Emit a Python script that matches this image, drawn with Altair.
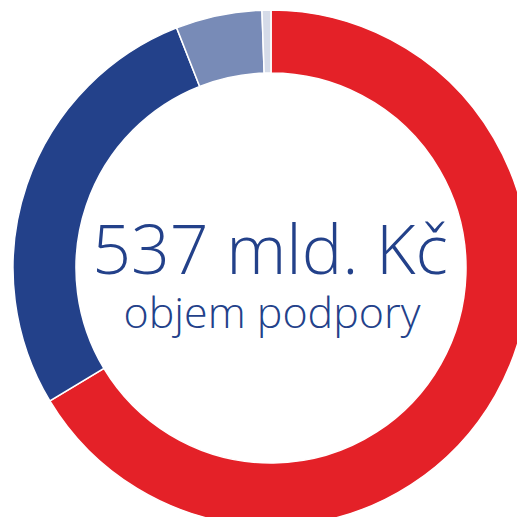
import altair as alt
import pandas as pd

categories = ["A", "B", "C", "D"]
values = [356.5, 148.5, 29.0, 3.0]
order = [1, 2, 3, 4]
colors = ["#E42128", "#23418A", "#788BB7", "#D5DBE8"]

df = pd.DataFrame({"cat": categories, "value": values, "ord": order})

CX, CY = 263, 260

ring = alt.Chart(df).mark_arc(
    innerRadius=195, outerRadius=258, stroke="white", strokeWidth=1.5
).encode(
    theta=alt.Theta("value:Q", stack=True),
    order=alt.Order("ord:Q"),
    color=alt.Color("cat:N", scale=alt.Scale(domain=categories, range=colors), legend=None),
    x=alt.value(CX),
    y=alt.value(CY),
)

line1 = alt.Chart(pd.DataFrame({"t": ["537 mld. Kč"]})).mark_text(
    font="Open Sans", fontSize=68, fontWeight=300, color="#23418A",
    align="center", baseline="alphabetic"
).encode(text="t:N", x=alt.value(262), y=alt.value(266))

line2 = alt.Chart(pd.DataFrame({"t": ["objem podpory"]})).mark_text(
    font="Open Sans", fontSize=43, fontWeight=300, color="#23418A",
    align="center", baseline="alphabetic"
).encode(text="t:N", x=alt.value(264), y=alt.value(320))

chart = alt.layer(ring, line1, line2).properties(
    width=509, height=509, padding=0, autosize=alt.AutoSizeParams(type="none"),
    background="white"
).configure_view(stroke=None)

chart.save("out.html", embed_options={"renderer": "svg", "actions": False})
